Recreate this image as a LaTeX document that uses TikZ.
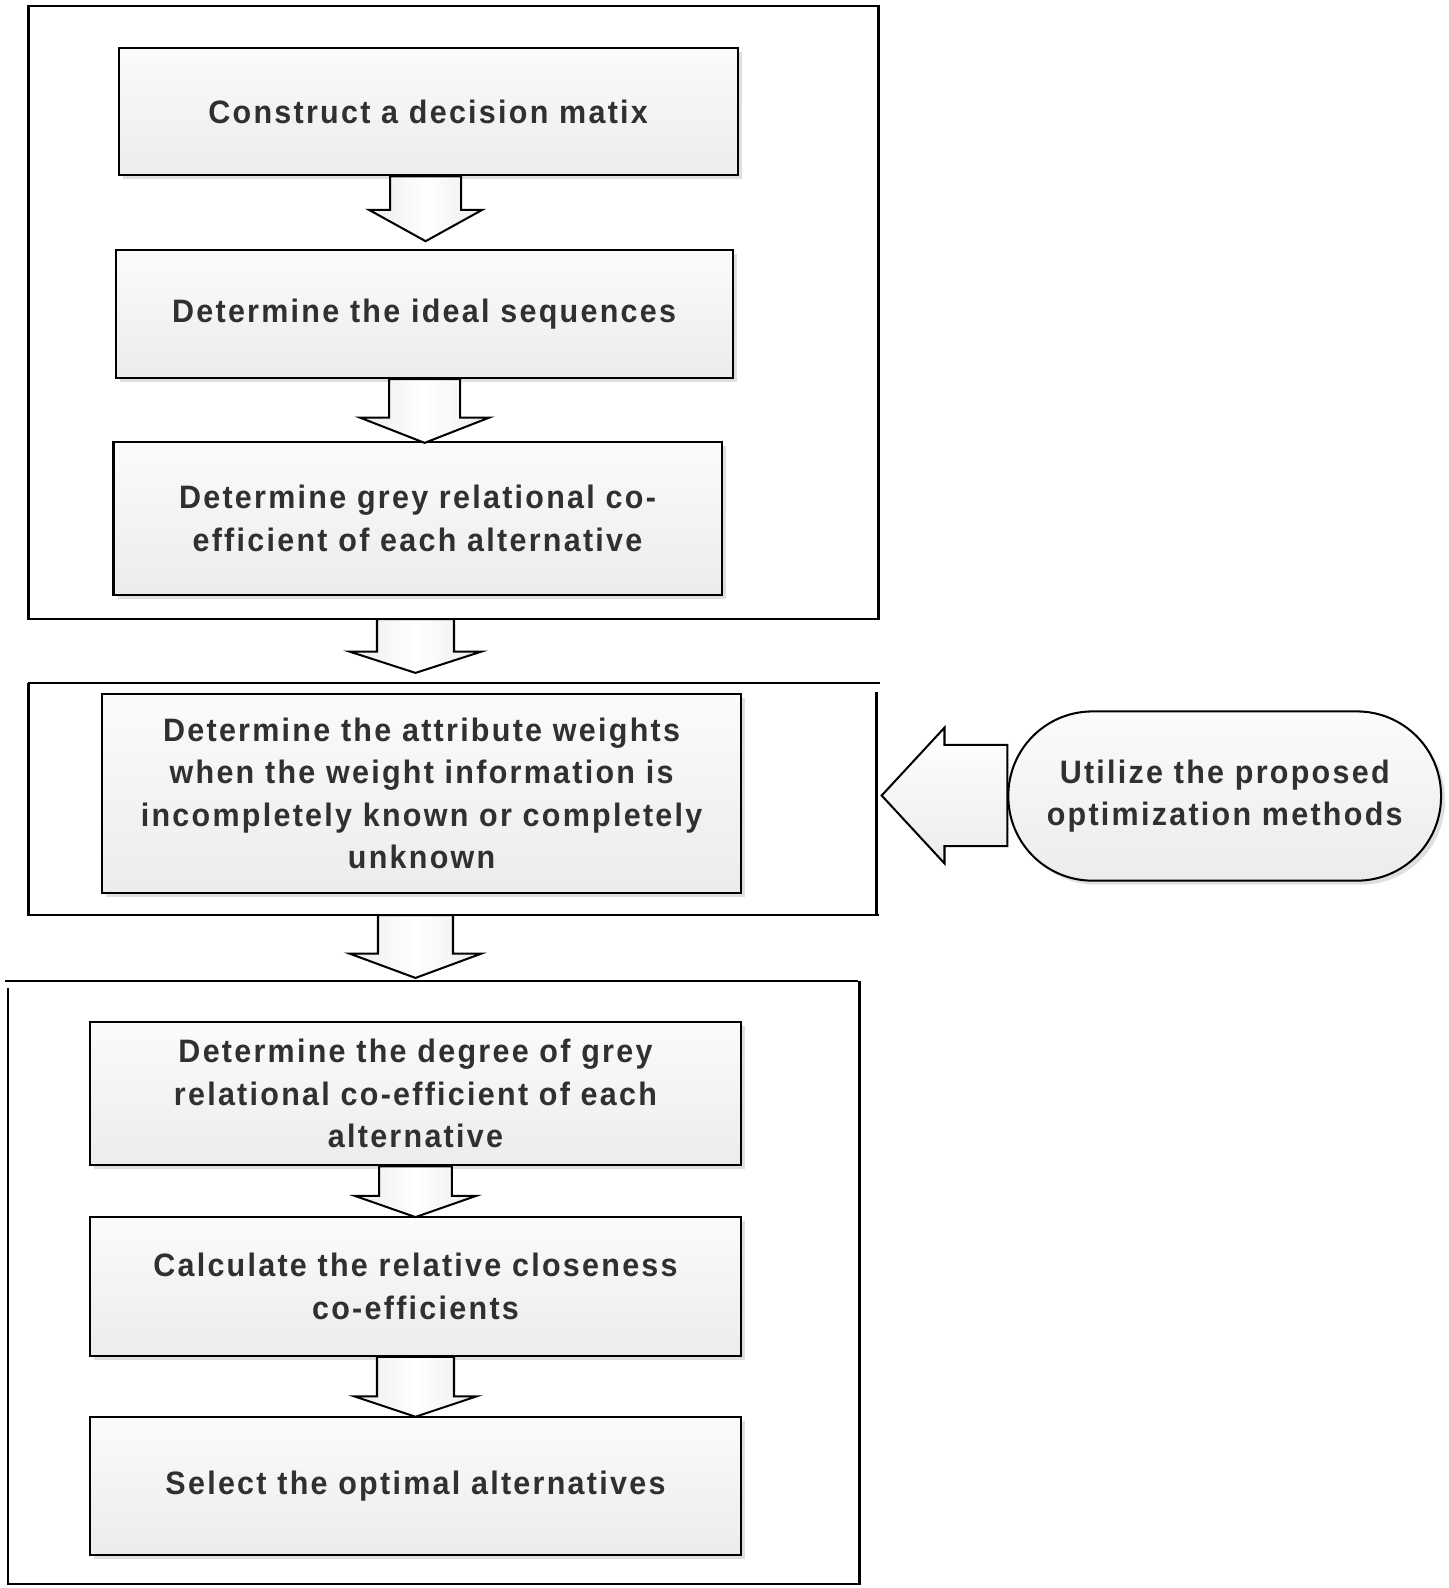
\documentclass[tikz,border=0pt]{standalone}
\usepackage{fontspec}
\setmainfont[LetterSpace=7,FakeStretch=0.94]{Liberation Sans}
\usetikzlibrary{calc,shadows}
\definecolor{txt}{HTML}{303030}
\definecolor{boxtop}{HTML}{FBFBFB}
\definecolor{boxbot}{HTML}{ECECEC}
\tikzset{
  box/.style={draw=black, line width=2pt, top color=boxtop, bottom color=boxbot,
    text=txt, font=\bfseries\fontsize{32}{42}\selectfont, align=center, inner sep=0pt,
    drop shadow={shadow xshift=4pt, shadow yshift=-4pt, opacity=0.25, fill=gray}},
  pill/.style={box, rounded corners=83pt},
  frame/.style={draw=black, line width=2.5pt},
  blockarrow/.style={draw=black, line width=2pt, left color=boxbot, right color=boxbot, middle color=white, line join=miter}
}
% vertical block arrow: #1 start (y used), #2 tip, #3 shaft half, #4 head half, #5 head length
\newcommand{\blockdown}[5]{%
  \path[blockarrow] let \p1=(#1), \p2=(#2) in
    (\x2-#3pt,\y1) -- (\x2+#3pt,\y1) -- (\x2+#3pt,\y2+#5pt) -- (\x2+#4pt,\y2+#5pt)
    -- (\x2,\y2) -- (\x2-#4pt,\y2+#5pt) -- (\x2-#3pt,\y2+#5pt) -- cycle;}
\begin{document}
\begin{tikzpicture}[x=1pt,y=-1pt]
\useasboundingbox (0,0) rectangle (1429,1567);
% frames
\draw[frame] (28,6) rectangle (867,611);
\draw[frame] (28,674) -- (868,674);
\draw[frame] (28,674) -- (28,903) -- (867,903);
\draw[frame] (865,683) -- (865,903);
\draw[frame] (5,968) -- (847,968);
\draw[frame] (8,975) -- (8,1563) -- (848,1563) -- (848,968);
% boxes
\node[box, minimum width=611, minimum height=126] (b1) at (422.5,110) {Construct a decision matix};
\node[box, minimum width=609, minimum height=126] (b2) at (418.5,310) {Determine the ideal sequences};
\node[box, minimum width=600, minimum height=151] (b3) at (412,511.5) {Determine grey relational co-\\efficient of each alternative};
\node[box, minimum width=630, minimum height=196] (b4) at (416,783) {Determine the attribute weights\\when the weight information is\\incompletely known or completely\\unknown};
\node[box, minimum width=642, minimum height=142] (b5) at (410,1079) {Determine the degree of grey\\relational co-efficient of each\\alternative};
\node[box, minimum width=642, minimum height=137] (b6) at (410,1269.5) {Calculate the relative closeness\\co-efficients};
\node[box, minimum width=642, minimum height=136] (b7) at (410,1466) {Select the optimal alternatives};
\node[pill, minimum width=427, minimum height=167] (p) at (1208.5,785.5) {Utilize the proposed\\optimization methods};
% coordinates
\coordinate (t1) at (420,238);
\coordinate (t2) at (419,437);
\coordinate (f1b) at (410,611);
\coordinate (t3) at (410,664);
\coordinate (f2b) at (410,903);
\coordinate (t4) at (410,965);
\coordinate (t5) at (410,1201);
\coordinate (t6) at (410,1398);
\coordinate (tl) at (870,785);
% down arrows
\blockdown{b1.south}{t1}{35}{56}{31}
\blockdown{b2.south}{t2}{35}{64}{25}
\blockdown{f1b}{t3}{38}{65}{21}
\blockdown{f2b}{t4}{37}{65}{24}
\blockdown{b5.south}{t5}{36}{60}{21}
\blockdown{b6.south}{t6}{38}{60}{20}
% left arrow
\path[blockarrow, top color=white, bottom color=boxbot] let \p1=(p.west), \p2=(tl) in
  (\x1,\y2+50pt) -- (\x1,\y2-50pt) -- (\x2+62pt,\y2-50pt) -- (\x2+62pt,\y2-67pt)
  -- (\x2,\y2) -- (\x2+62pt,\y2+67pt) -- (\x2+62pt,\y2+50pt) -- cycle;
\end{tikzpicture}
\end{document}
